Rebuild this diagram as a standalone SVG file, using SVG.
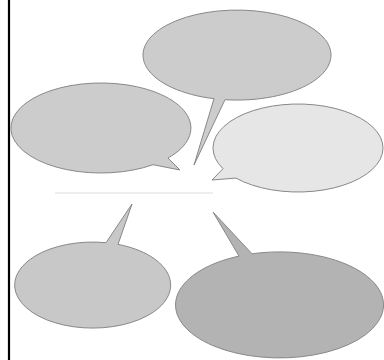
<svg xmlns="http://www.w3.org/2000/svg" width="384" height="360" viewBox="0 0 384 360">
<style>
.b{stroke:#888;stroke-width:1;stroke-linejoin:miter}
</style>
<rect width="384" height="360" fill="#fff"/>
<line x1="9" y1="0" x2="9" y2="360" stroke="#000" stroke-width="2.2"/>
<g id="connectors">
<line x1="55" y1="193" x2="213" y2="193" stroke="#ddd" stroke-width="1"/>
</g>
<g id="top"><path class="b" fill="#cccccc" d="M225,99.7 L194,165 L214,98.7 A94 45 0 1 1 225,99.7 Z"/></g>
<g id="left"><path class="b" fill="#cccccc" d="M153,164.7 L180,170 L168,158 A90 45 0 1 0 153,164.7 Z"/></g>
<g id="right"><path class="b" fill="#e6e6e6" d="M223,168.7 L212,180 L236,178.1 A85 44 0 1 0 223,168.7 Z"/></g>
<g id="bottomleft"><path class="b" fill="#c8c8c8" d="M106,242.7 L132,204 L118,244.4 A78 43 0 1 1 106,242.7 Z"/></g>
<g id="bottomright"><path class="b" fill="#b3b3b3" d="M239,256.1 L213,212 L252,253.8 A104 53 0 1 1 239,256.1 Z"/></g>
</svg>
